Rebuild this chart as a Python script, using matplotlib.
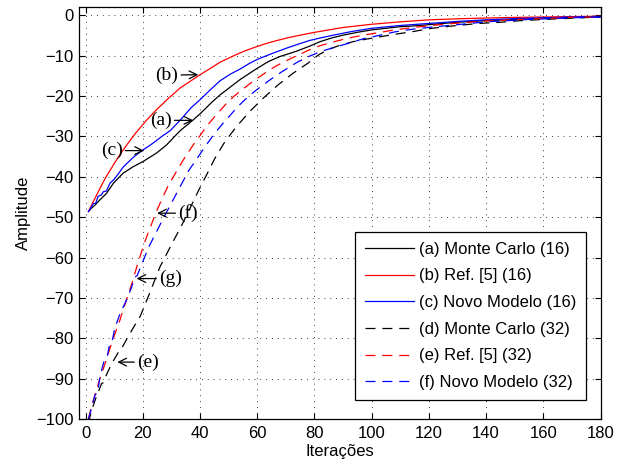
import matplotlib.pyplot as plt

plt.rcParams["font.family"] = ["Liberation Sans", "DejaVu Sans"]
plt.rcParams["font.size"] = 12

# (a) Monte Carlo, 16
x_mc16 = [1, 2, 3.3, 5, 7.3, 9.7, 13.1, 16.6, 20.1, 24.8, 28.3, 33, 37.6, 40, 44, 47,
          50.5, 54, 57, 60, 64, 67.9, 71, 74, 78.4, 82, 86, 90, 95, 100, 105, 110, 115,
          120, 125, 130, 135, 140, 150, 160, 170, 180]
y_mc16 = [-48.6, -47.8, -47.0, -45.7, -44.1, -41.6, -39.1, -37.5, -36.2, -34.1, -32.1,
          -28.6, -25.9, -24.4, -21.6, -19.7, -17.8, -15.9, -14.5, -13.1, -11.4, -10.2,
          -9.5, -8.8, -7.6, -6.5, -5.6, -4.9, -4.2, -3.6, -3.2, -2.8, -2.6, -2.3, -2.0,
          -1.7, -1.5, -1.3, -1.0, -0.7, -0.5, -0.3]

# (b) Ref. [5], 16
x_ref16 = [1, 2, 3, 4, 5, 6, 7, 8, 9, 10, 11, 12, 13, 15, 17, 19, 21, 23, 25, 27, 29,
           31, 33, 36, 40, 43, 47, 50, 53, 56, 60, 63, 67, 71, 75, 80, 85, 90, 95, 100,
           110, 120, 130, 140, 150, 160, 170, 180]
y_ref16 = [-48.6, -47.1, -45.7, -44.3, -42.9, -41.5, -40.2, -39.0, -37.9, -36.7, -35.6,
           -34.5, -33.5, -31.5, -29.6, -27.9, -26.2, -24.7, -23.2, -21.9, -20.5, -19.3,
           -18.0, -16.6, -14.7, -13.4, -11.6, -10.6, -9.6, -8.7, -7.7, -7.0, -6.2, -5.5,
           -4.9, -4.2, -3.6, -3.0, -2.6, -2.2, -1.6, -1.1, -0.85, -0.65, -0.5, -0.4,
           -0.3, -0.2]

# (c) Novo Modelo, 16
x_nm16 = [1, 2, 2.7, 3.5, 4.4, 5.5, 6.2, 7.3, 8.5, 10, 11.5, 13.1, 15, 16.6, 18.4, 20.1,
          22.5, 24.8, 27, 29.5, 31, 33, 35, 37, 40, 43.5, 47, 50.5, 54, 57, 60, 65, 70.3,
          74.9, 78.4, 82, 86.6, 93, 100, 110, 120, 130, 140, 150, 160, 170, 180]
y_nm16 = [-48.6, -47.5, -46.6, -46.6, -44.8, -44.5, -43.7, -43.5, -41.6, -40.6, -39.2,
          -37.6, -36.3, -35.2, -34.2, -33.3, -32.2, -31.0, -29.8, -28.6, -27.5, -26.0,
          -24.4, -22.8, -20.9, -18.5, -16.2, -14.6, -13.3, -12.0, -10.9, -9.5, -8.1,
          -7.0, -6.2, -5.6, -4.9, -4.0, -3.2, -2.5, -2.0, -1.5, -1.1, -0.8, -0.6, -0.4,
          -0.25]

# (d) Monte Carlo, 32
x_mc32 = [1, 2, 3.5, 5.6, 6.2, 7, 9.1, 12, 12.6, 15.5, 18.4, 19, 21.9, 26, 30.6, 33.6,
          36.5, 39.4, 42.3, 45.2, 48.7, 52.8, 57.4, 62.1, 67.3, 72.6, 77.8, 81, 84.3,
          88.9, 93.6, 98, 102.9, 108, 114.5, 121, 128.5, 137.4, 145, 152, 160, 170, 180]
y_mc32 = [-101, -98, -95, -91.2, -91.0, -89.5, -86.3, -82.8, -82.5, -78.8, -75.3,
          -74.7, -69.7, -62.3, -56.0, -52.0, -47.8, -43.5, -39.5, -35.4, -31.3, -27.5,
          -23.8, -20.5, -17.2, -14.3, -11.8, -10.0, -8.6, -7.4, -6.5, -5.9, -5.3, -4.7,
          -4.0, -3.2, -2.6, -2.0, -1.7, -1.3, -1.0, -0.7, -0.4]

# (e) Ref. [5], 32
x_ref32 = [1, 2, 3.3, 5, 6.7, 8.5, 10.2, 12, 13.1, 15, 16.6, 18, 19.6, 21, 23, 24.8, 27,
           29, 31.5, 34, 36, 38.2, 40, 42.3, 45, 47, 49, 51.6, 54, 56.9, 60, 62.7, 65.5,
           68.5, 72, 75, 78, 82, 87, 92, 97, 103, 108, 114.5, 121, 128.5, 140, 155, 170,
           180]
y_ref32 = [-100, -97, -94, -90, -86.5, -82.5, -79, -75.5, -73, -69, -65.5, -62, -58.5,
           -55.5, -51.8, -48.5, -45, -42, -39, -36, -33.8, -31.5, -29.8, -27.5, -25.2,
           -23.6, -22, -20.2, -18.8, -17.2, -15.6, -14.3, -13.0, -11.8, -10.6, -9.6,
           -8.6, -7.5, -6.5, -5.6, -4.9, -4.2, -3.6, -3.0, -2.5, -2.0, -1.4, -0.9, -0.5,
           -0.35]

# (f) Novo Modelo, 32
x_nm32 = [1, 2, 3.3, 4.2, 5, 6.7, 7.6, 8.5, 9.4, 10.2, 12, 14.3, 16, 17.2, 18, 20, 22,
          24.5, 27, 30, 33, 36, 39.4, 41.5, 43.5, 45.5, 47.6, 50, 52.2, 54.5, 56.9, 59.5,
          62.1, 65, 67.9, 71, 74, 78, 82, 87, 92, 97, 103, 108, 114.5, 121, 128.5, 140,
          155, 170, 180]
y_nm32 = [-100, -97.5, -94, -93.6, -89.5, -85, -84.4, -81, -80.3, -77.5, -74, -70.5,
          -67.5, -64.8, -64.5, -61, -57.5, -54, -50.5, -46.5, -42.5, -38.5, -35, -32.8,
          -30.8, -28.9, -27.1, -25.2, -23.4, -21.7, -20.1, -18.6, -17.2, -15.7, -14.3,
          -12.9, -11.6, -10.2, -9.0, -7.9, -6.9, -5.8, -4.9, -4.1, -3.4, -2.9, -2.4,
          -1.6, -1.0, -0.6, -0.4]

labels = ["(a) Monte Carlo (16)", "(b) Ref. [5] (16)", "(c) Novo Modelo (16)",
          "(d) Monte Carlo (32)", "(e) Ref. [5] (32)", "(f) Novo Modelo (32)"]

fig = plt.figure(figsize=(6.23, 4.63), dpi=100)
ax = fig.add_axes([0.1273, 0.0950, 0.8366, 0.8892])

lw = 0.9
dash = (8, 5.5)
ax.plot(x_mc16, y_mc16, color="k", lw=lw, label=labels[0])
ax.plot(x_ref16, y_ref16, color="r", lw=lw, label=labels[1])
ax.plot(x_nm16, y_nm16, color="b", lw=lw, label=labels[2])
ax.plot(x_mc32, y_mc32, color="k", lw=lw, dashes=dash, label=labels[3])
ax.plot(x_ref32, y_ref32, color="r", lw=lw, dashes=dash, label=labels[4])
ax.plot(x_nm32, y_nm32, color="b", lw=lw, dashes=dash, label=labels[5])

ax.set_xlim(-2.2, 180)
ax.set_ylim(-100, 2)
ax.set_xticks(range(0, 181, 20))
ax.set_yticks(range(-100, 1, 10))
ax.tick_params(direction="in", top=True, right=True, length=4, width=0.8,
               labelsize=12)
ax.tick_params(axis="x", pad=5)
ax.tick_params(axis="y", pad=4)
ax.grid(True, color="k", lw=0.6, linestyle=(0, (1, 6)))
for s in ax.spines.values():
    s.set_linewidth(0.9)

ax.set_xlabel("Iterações", labelpad=2)
ax.set_ylabel("Amplitude", labelpad=4)

# curve labels with arrows
serif = dict(family="Liberation Serif", size=14)
arrow = dict(arrowstyle="->", lw=0.9, color="k", shrinkA=0, shrinkB=0)
ax.annotate("(b)", xy=(39.4, -14.7), xytext=(32.4, -14.8), ha="right", va="center",
            arrowprops=arrow, **serif)
ax.annotate("(a)", xy=(37.6, -26.0), xytext=(30.1, -26.0), ha="right", va="center",
            arrowprops=arrow, **serif)
ax.annotate("(c)", xy=(20.4, -33.5), xytext=(12.9, -33.5), ha="right", va="center",
            arrowprops=arrow, **serif)
ax.annotate("(f)", xy=(25.0, -49.0), xytext=(32.4, -49.0), ha="left", va="center",
            arrowprops=arrow, **serif)
ax.annotate("(g)", xy=(17.8, -65.2), xytext=(25.7, -65.2), ha="left", va="center",
            arrowprops=arrow, **serif)
ax.annotate("(e)", xy=(11.1, -85.9), xytext=(18.0, -85.9), ha="left", va="center",
            arrowprops=arrow, **serif)

leg = ax.legend(loc="lower right", bbox_to_anchor=(0.972, 0.046), borderaxespad=0,
                fancybox=False, edgecolor="k", framealpha=1, fontsize=12,
                handlelength=2.9, handletextpad=0.3, labelspacing=0.7,
                borderpad=0.6)
leg.get_frame().set_linewidth(0.9)

fig.savefig("out.png", dpi=100)
